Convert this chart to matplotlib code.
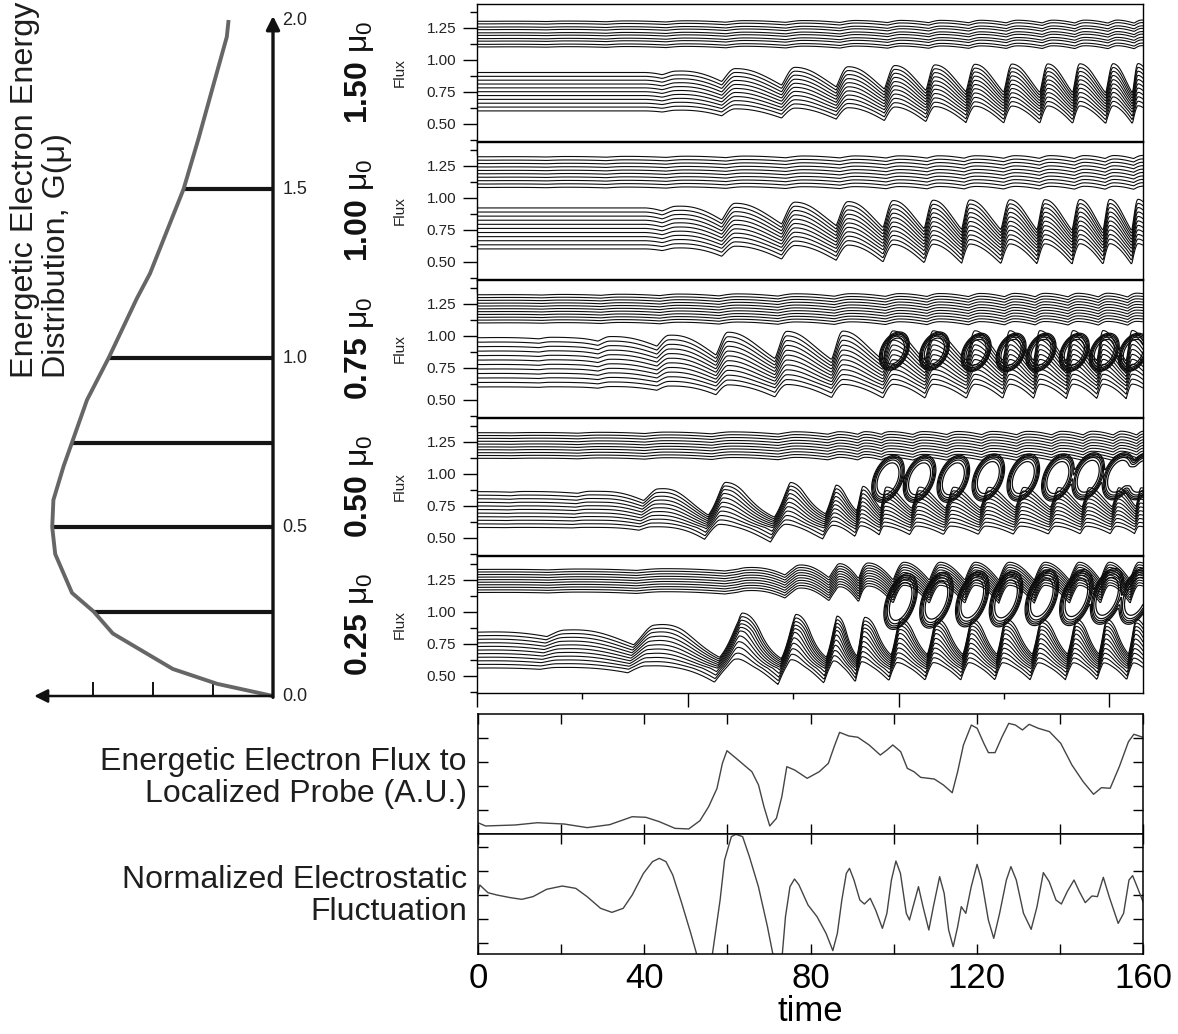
import numpy as np
import matplotlib
matplotlib.use("Agg")
import matplotlib.pyplot as plt
from matplotlib.ticker import FixedLocator, NullFormatter

plt.rcParams['font.family'] = ['Liberation Sans', 'DejaVu Sans']
plt.rcParams['mathtext.fontset'] = 'custom'
plt.rcParams['mathtext.rm'] = 'Liberation Sans'
plt.rcParams['mathtext.bf'] = 'Liberation Sans:bold'
plt.rcParams['mathtext.it'] = 'Liberation Sans:italic'

# ---------------- data ----------------
# left: energetic electron energy distribution G(mu)
mu_pts = [0.0, 0.036, 0.08, 0.185, 0.25, 0.305, 0.42, 0.5, 0.58, 0.68, 0.75, 0.876,
          1.0, 1.176, 1.25, 1.5, 1.65, 1.81, 1.95, 2.0]
G_pts = [0.0, 0.93, 1.67, 2.67, 2.99, 3.35, 3.63, 3.68, 3.66, 3.49, 3.35, 3.1,
         2.74, 2.27, 2.05, 1.49, 1.24, 0.99, 0.77, 0.74]
mu_levels = [0.25, 0.5, 0.75, 1.0, 1.5]
G_at_levels = [2.99, 3.68, 3.35, 2.74, 1.49]
mu_ticks = [0.0, 0.5, 1.0, 1.5, 2.0]
G_ticks = [1, 2, 3]

# contour panels (top to bottom): contour levels, wave crest times, envelopes
panel_labels = ['1.50', '1.00', '0.75', '0.50', '0.25']

p1_low = [0.60, 0.63, 0.66, 0.69, 0.72, 0.75, 0.78, 0.81, 0.84, 0.87, 0.90]
p1_up = [1.10, 1.12, 1.145, 1.165, 1.19, 1.21, 1.235, 1.255, 1.28, 1.30]
p1_crest = [61.2, 75.4, 88.0, 99.1, 108.6, 118.1, 126.9, 135.4, 143.0, 150.9, 156.8]
p1_env_t = [0, 40, 50, 61, 75, 88, 100, 120, 158]
p1_env_a = [0, 0, 0.03, 0.06, 0.08, 0.09, 0.11, 0.13, 0.14]
p1_prof_y = [0.36, 0.60, 0.75, 0.90, 1.44]
p1_prof_a = [0.45, 0.5, 0.8, 1.0, 1.0]
p1_up_t = [0, 60, 158]
p1_up_a = [0, 0.006, 0.012]
p1_vort_t = []
p1_vort_y = []

p2_low = [0.60, 0.632, 0.664, 0.696, 0.728, 0.76, 0.792, 0.824, 0.856, 0.888, 0.92]
p2_up = [1.08, 1.107, 1.133, 1.16, 1.187, 1.213, 1.24, 1.267, 1.293, 1.32]
p2_crest = [61.2, 75.4, 88.0, 98.7, 108.2, 116.9, 126.4, 134.7, 143.0, 150.1, 156.8]
p2_env_t = [0, 40, 50, 61, 75, 88, 100, 120, 158]
p2_env_a = [0, 0, 0.04, 0.08, 0.10, 0.11, 0.13, 0.14, 0.15]
p2_prof_y = [0.36, 0.60, 0.76, 0.92, 1.44]
p2_prof_a = [0.5, 0.55, 0.8, 1.0, 1.0]
p2_up_t = [0, 60, 158]
p2_up_a = [0, 0.006, 0.012]
p2_vort_t = []
p2_vort_y = []

p3_low = [0.60, 0.635, 0.67, 0.705, 0.74, 0.775, 0.81, 0.845, 0.88, 0.915, 0.95, 0.985]
p3_up = [1.10, 1.122, 1.144, 1.166, 1.188, 1.21, 1.232, 1.254, 1.276, 1.298, 1.32]
p3_crest = [59.5, 73.5, 86.8, 98.7, 108.2, 118.1, 126.4, 133.5, 141.4, 148.5, 155.4]
p3_env_t = [0, 25, 45, 59.5, 73.5, 100, 158]
p3_env_a = [0, 0.01, 0.05, 0.12, 0.14, 0.15, 0.16]
p3_prof_y = [0.36, 0.60, 0.80, 0.985, 1.44]
p3_prof_a = [0.35, 0.35, 0.7, 1.0, 1.0]
p3_up_t = [0, 60, 158]
p3_up_a = [0, 0.008, 0.015]
p3_vort_t = [99.0, 108.5, 118.4, 126.7, 133.8, 141.7, 148.8, 155.7]
p3_vort_y = [0.88, 0.88, 0.87, 0.87, 0.87, 0.87, 0.87, 0.87]

p4_low = [0.58, 0.608, 0.636, 0.664, 0.692, 0.72, 0.748, 0.776, 0.804, 0.832, 0.86]
p4_up = [1.12, 1.142, 1.164, 1.187, 1.209, 1.231, 1.253, 1.276, 1.298, 1.32]
p4_crest = [42.2, 58.1, 73.8, 84.9, 91.3, 96.8, 104.6, 112.7, 121.0, 129.3, 137.6,
            144.9, 152.0, 157.3]
p4_env_t = [0, 30, 42, 58, 74, 85, 95, 158]
p4_env_a = [0, 0.01, 0.06, 0.24, 0.24, 0.17, 0.12, 0.10]
p4_prof_y = [0.36, 0.58, 0.86, 1.44]
p4_prof_a = [0.28, 0.28, 1.0, 1.0]
p4_up_t = [0, 60, 158]
p4_up_a = [0, 0.008, 0.015]
p4_vort_t = [97.5, 105.0, 113.0, 121.3, 129.6, 137.8, 145.0, 152.2, 157.6]
p4_vort_y = [0.96, 0.96, 0.96, 0.97, 0.97, 0.97, 0.98, 0.98, 0.98]

p5_low = [0.56, 0.588, 0.616, 0.644, 0.672, 0.70, 0.728, 0.756, 0.784, 0.812, 0.84]
p5_up = [1.15, 1.17, 1.19, 1.21, 1.23, 1.25, 1.27, 1.29, 1.31, 1.33]
p5_crest = [41.0, 62.0, 75.0, 85.0, 91.5, 100.0, 108.6, 117.0, 125.0, 133.5, 141.8,
            149.0, 156.0]
p5_env_t = [0, 20, 41, 62, 75, 100, 158]
p5_env_a = [0, 0.03, 0.10, 0.30, 0.28, 0.21, 0.20]
p5_prof_y = [0.36, 0.56, 0.84, 1.44]
p5_prof_a = [0.3, 0.3, 1.0, 1.0]
p5_up_t = [0, 60, 80, 100, 158]
p5_up_a = [0, 0.01, 0.05, 0.07, 0.07]
p5_vort_t = [100.5, 109.0, 117.5, 125.5, 134.0, 142.2, 149.5, 156.3]
p5_vort_y = [1.08, 1.09, 1.10, 1.10, 1.11, 1.11, 1.12, 1.12]

panels = [
    dict(low=p1_low, up=p1_up, crest=p1_crest, env_t=p1_env_t, env_a=p1_env_a,
         prof_y=p1_prof_y, prof_a=p1_prof_a, up_t=p1_up_t, up_a=p1_up_a,
         vt=p1_vort_t, vy=p1_vort_y, sh=0.5, r=0.22, kappa=0.0, rt=3.0, ry=0.12),
    dict(low=p2_low, up=p2_up, crest=p2_crest, env_t=p2_env_t, env_a=p2_env_a,
         prof_y=p2_prof_y, prof_a=p2_prof_a, up_t=p2_up_t, up_a=p2_up_a,
         vt=p2_vort_t, vy=p2_vort_y, sh=0.55, r=0.22, kappa=0.0, rt=3.0, ry=0.12),
    dict(low=p3_low, up=p3_up, crest=p3_crest, env_t=p3_env_t, env_a=p3_env_a,
         prof_y=p3_prof_y, prof_a=p3_prof_a, up_t=p3_up_t, up_a=p3_up_a,
         vt=p3_vort_t, vy=p3_vort_y, sh=0.65, r=0.2, kappa=0.0, rt=2.9, ry=0.13),
    dict(low=p4_low, up=p4_up, crest=p4_crest, env_t=p4_env_t, env_a=p4_env_a,
         prof_y=p4_prof_y, prof_a=p4_prof_a, up_t=p4_up_t, up_a=p4_up_a,
         vt=p4_vort_t, vy=p4_vort_y, sh=0.7, r=0.18, kappa=0.3, rt=3.1, ry=0.16),
    dict(low=p5_low, up=p5_up, crest=p5_crest, env_t=p5_env_t, env_a=p5_env_a,
         prof_y=p5_prof_y, prof_a=p5_prof_a, up_t=p5_up_t, up_a=p5_up_a,
         vt=p5_vort_t, vy=p5_vort_y, sh=0.5, r=0.18, kappa=0.3, rt=3.1, ry=0.19),
]
vortex_levels = [0.1, 0.2, 0.35, 0.55, 0.8]

# bottom: flux to localized probe (A.U.)
flux_t = [0, 1.8, 8.9, 14.3, 20.8, 26.3, 31.7, 37.1, 40.4, 43.6, 47.4, 50.7, 53.4, 55.5,
          57.5, 58.8, 59.9, 62.1, 65.9, 67.5, 68.8, 70.2, 71.8, 73.1, 74.3, 76.2, 79.2,
          82.1, 84.3, 85.7, 87.0, 89.2, 91.4, 94.1, 96.8, 98.4, 99.8, 101.7, 103.3,
          104.9, 106.5, 109.8, 112.0, 114.1, 115.4, 116.8, 118.7, 120.1, 121.7, 122.8,
          124.4, 126.1, 127.7, 129.3, 131.0, 132.6, 134.8, 137.5, 140.2, 142.9, 145.6,
          148.1, 150.0, 152.1, 154.3, 156.5, 157.8, 160]
flux_v = [0.094, 0.067, 0.075, 0.094, 0.083, 0.053, 0.078, 0.144, 0.139, 0.103, 0.047,
          0.042, 0.111, 0.228, 0.38, 0.589, 0.694, 0.631, 0.519, 0.408, 0.228, 0.067,
          0.131, 0.311, 0.561, 0.533, 0.464, 0.519, 0.589, 0.728, 0.847, 0.817, 0.806,
          0.742, 0.658, 0.70, 0.742, 0.686, 0.547, 0.519, 0.472, 0.458, 0.408, 0.344,
          0.519, 0.742, 0.908, 0.881, 0.756, 0.678, 0.678, 0.811, 0.922, 0.908, 0.867,
          0.914, 0.881, 0.853, 0.756, 0.575, 0.436, 0.331, 0.386, 0.381, 0.561, 0.769,
          0.831, 0.806]

# bottom: normalized electrostatic fluctuation
es_t = [0, 0.43, 2.39, 4.56, 7.81, 10.52, 13.23, 16.49, 20.28, 23.53, 26.25, 29.5,
        32.22, 34.93, 37.1, 39.81, 41.98, 43.61, 45.23, 46.86, 49.03, 51.2, 52.6, 54.5,
        56.4, 58.25, 59.33, 60.96, 62.05, 63.67, 65.3, 67.47, 69.64, 70.94, 72.1, 73.22,
        73.98, 75.06, 76.15, 77.23, 79.4, 81.57, 83.74, 85.37, 86.46, 87.54, 88.62,
        89.38, 90.46, 91.87, 92.96, 94.37, 95.67, 97.3, 98.38, 99.47, 100.55, 101.64,
        103.05, 103.81, 104.89, 105.98, 107.07, 108.47, 109.56, 111.07, 112.16, 113.24,
        114.33, 115.41, 116.28, 117.37, 118.67, 120.08, 121.16, 122.79, 124.09, 125.5,
        127.13, 128.22, 129.51, 131.25, 133.09, 134.5, 136.02, 137.43, 139.06, 140.36,
        141.77, 143.4, 144.7, 146.11, 147.73, 149.04, 150.45, 151.86, 154.03, 155.33,
        156.63, 157.5, 158.58, 160]
es_v = [0.021, 0.16, 0.032, -0.007, -0.051, -0.079, -0.034, 0.088, 0.143, 0.104,
        -0.034, -0.229, -0.296, -0.229, -0.007, 0.354, 0.549, 0.604, 0.549, 0.327,
        -0.146, -0.646, -0.99, -1.3, -0.99, -0.09, 0.577, 0.966, 1.005, 0.966, 0.632,
        0.132, -0.534, -0.99, -1.3, -0.99, -0.368, 0.132, 0.26, 0.16, -0.173, -0.368,
        -0.646, -0.934, -0.646, -0.09, 0.354, 0.438, 0.243, -0.09, -0.157, -0.062,
        -0.257, -0.562, -0.312, 0.243, 0.56, 0.354, -0.312, -0.423, -0.146, 0.132,
        -0.201, -0.59, -0.201, 0.299, 0.021, -0.59, -0.868, -0.534, -0.201, -0.312,
        0.132, 0.504, 0.243, -0.423, -0.729, -0.312, 0.243, 0.466, 0.243, -0.312,
        -0.579, -0.201, 0.366, 0.216, -0.09, -0.157, 0.049, 0.243, 0.049, -0.134,
        -0.023, -0.034, 0.288, -0.034, -0.479, -0.312, 0.243, 0.316, 0.132, -0.118]
time_ticks = [0, 20, 40, 60, 80, 100, 120, 140, 160]
time_labels = ['0', '', '40', '', '80', '', '120', '', '160']

# ---------------- figure ----------------
W, H = 1178, 1034
fig = plt.figure(figsize=(W / 100, H / 100), dpi=100)
INK = '#0d0d0d'


def add_ax(l, t, r, b):
    return fig.add_axes([l / W, 1 - b / H, (r - l) / W, (b - t) / H])


def py(y):
    return 1 - y / H


def px(x):
    return x / W


# ----- left distribution panel -----
axL = add_ax(20, 10, 300, 700)
axL.set_xlim(4.2167, -0.45)
axL.set_ylim(-0.0118, 2.0296)
axL.axis('off')
axL.plot(G_pts, mu_pts, color='#666666', lw=2.8, solid_capstyle='butt', zorder=3)
for m, g in zip(mu_levels, G_at_levels):
    axL.plot([0, g], [m, m], color='#151515', lw=3.0, solid_capstyle='butt', zorder=2)
axL.annotate('', xy=(0, 2.012), xytext=(0, -0.004),
             arrowprops=dict(arrowstyle='-|>', lw=2.4, color='#111111',
                             mutation_scale=20, shrinkA=0, shrinkB=0))
axL.annotate('', xy=(3.98, 0), xytext=(0.0, 0),
             arrowprops=dict(arrowstyle='-|>', lw=1.8, color='#111111',
                             mutation_scale=20, shrinkA=0, shrinkB=0))
for g in G_ticks:
    axL.plot([g, g], [0, 0.038], color='#111111', lw=1.4)
for m in mu_ticks:
    axL.text(-0.16, m, f'{m:.1f}', ha='left', va='center', fontsize=13, color='#222222')

fig.text(px(10), py(378), 'Energetic Electron Energy\nDistribution, G(\u03bc)',
         rotation=90, ha='left', va='bottom', multialignment='left',
         fontsize=23.3, linespacing=1.08, color='#1e1e1e')

# ----- contour panels -----
t_grid = np.linspace(0, 158, 791)
y_grid = np.linspace(0.365, 1.435, 322)
T, Y = np.meshgrid(t_grid, y_grid)


def phase_of(t, crest):
    c = np.asarray(crest, dtype=float)
    idx = np.arange(len(c), dtype=float)
    ph = np.interp(t, c, idx)
    p0 = c[1] - c[0]
    pe = c[-1] - c[-2]
    ph = np.where(t < c[0], (t - c[0]) / p0, ph)
    ph = np.where(t > c[-1], len(c) - 1 + (t - c[-1]) / pe, ph)
    return ph


def wave(u, r):
    # rounded crest, slow fall to a pointed trough, fast rise into the next crest
    fall = 2 * np.cos(0.5 * np.pi * u / (1 - r)) - 1
    rise = -1 + 2 * np.sin(0.5 * np.pi * (u - (1 - r)) / r)
    return np.where(u < 1 - r, fall, rise)


tops = [4, 142, 280, 418, 556]
for i, (p, lab, top) in enumerate(zip(panels, panel_labels, tops)):
    ax = add_ax(477, top, 1143, top + 137)
    ph = phase_of(T, p['crest'])
    # lower band
    A = np.interp(T, p['env_t'], p['env_a'])
    a = np.interp(Y, p['prof_y'], p['prof_a'])
    u = np.mod(ph - p['kappa'] * (Y - 0.75), 1.0)
    F_low = Y - A * a * (wave(u, p['r']) - p['sh'])
    ax.contour(T, Y, F_low, levels=p['low'], colors=INK, linewidths=0.8)
    # upper band
    Au = np.interp(T, p['up_t'], p['up_a'])
    uu = np.mod(ph - 0.15, 1.0)
    F_up = Y - Au * (wave(uu, 0.3) - 0.2)
    ax.contour(T, Y, F_up, levels=p['up'], colors=INK, linewidths=0.8)
    # trapped-particle vortices
    if len(p['vt']):
        V = np.zeros_like(T)
        for vt, vy in zip(p['vt'], p['vy']):
            q = ((T - vt - 8.0 * (Y - vy)) / p['rt']) ** 2 + ((Y - vy) / p['ry']) ** 2
            V = V + np.exp(-q ** 3)
        ax.contour(T, Y, V, levels=vortex_levels, colors=INK, linewidths=0.9)
    ax.set_xlim(0, 158)
    ax.set_ylim(0.365, 1.435)
    ax.xaxis.set_major_locator(FixedLocator([0, 50, 100, 150]))
    ax.xaxis.set_minor_locator(FixedLocator([25, 75, 125]))
    ax.xaxis.set_major_formatter(NullFormatter())
    ax.yaxis.set_major_locator(FixedLocator([0.5, 0.75, 1.0, 1.25]))
    ax.yaxis.set_minor_locator(FixedLocator([0.375, 0.625, 0.875, 1.125, 1.375]))
    ax.set_yticklabels(['0.50', '0.75', '1.00', '1.25'])
    ax.tick_params(axis='x', which='major', direction='out', length=10, width=1.0)
    ax.tick_params(axis='x', which='minor', direction='out', length=4, width=1.0)
    ax.tick_params(axis='y', which='major', direction='out', length=10, width=1.0,
                   labelsize=11, pad=5, labelcolor='#222222')
    ax.tick_params(axis='y', which='minor', direction='out', length=5, width=1.0)
    for s in ax.spines.values():
        s.set_linewidth(1.0)
    cy = top + 68.5
    fig.text(px(360), py(cy), r'$\mathbf{' + lab + r'}\ \mathrm{\mu}_0$', rotation=90,
             ha='center', va='center', fontsize=23, color='#111111')
    fig.text(px(400), py(cy), 'Flux', rotation=90, ha='center', va='center',
             fontsize=11, family=['Liberation Sans Narrow', 'Liberation Sans'],
             color='#222222')

# ----- bottom line panels -----
axA = add_ax(478, 714, 1143, 834)
axA.plot(flux_t, flux_v, color='#444444', lw=1.0)
axA.set_xlim(0, 160)
axA.set_ylim(0, 1)
axA.set_xticks(time_ticks)
axA.set_yticks([0.2, 0.4, 0.6, 0.8])
axA.tick_params(direction='in', length=7, width=1.0, top=True, right=True,
                labelbottom=False, labelleft=False)

axB = add_ax(478, 834, 1143, 954)
axB.plot(es_t, es_v, color='#444444', lw=1.0)
axB.set_xlim(0, 160)
axB.set_ylim(-0.99, 1.01)
axB.set_xticks(time_ticks)
axB.set_xticklabels(time_labels)
axB.set_yticks([-0.8, -0.4, 0.0, 0.4, 0.8])
axB.tick_params(direction='in', length=7, width=1.0, top=True, right=True,
                labelleft=False, labelsize=25, pad=6)
axB.set_xlabel('time', fontsize=25, labelpad=0)
for axx in (axA, axB):
    for s in axx.spines.values():
        s.set_linewidth(1.1)

fig.text(px(467), py(778), 'Energetic Electron Flux to\nLocalized Probe (A.U.)',
         ha='right', va='center', multialignment='right', fontsize=23,
         linespacing=1.05, color='#1e1e1e')
fig.text(px(467), py(896), 'Normalized Electrostatic\nFluctuation',
         ha='right', va='center', multialignment='right', fontsize=23,
         linespacing=1.05, color='#1e1e1e')

fig.savefig('out.png', dpi=100)
